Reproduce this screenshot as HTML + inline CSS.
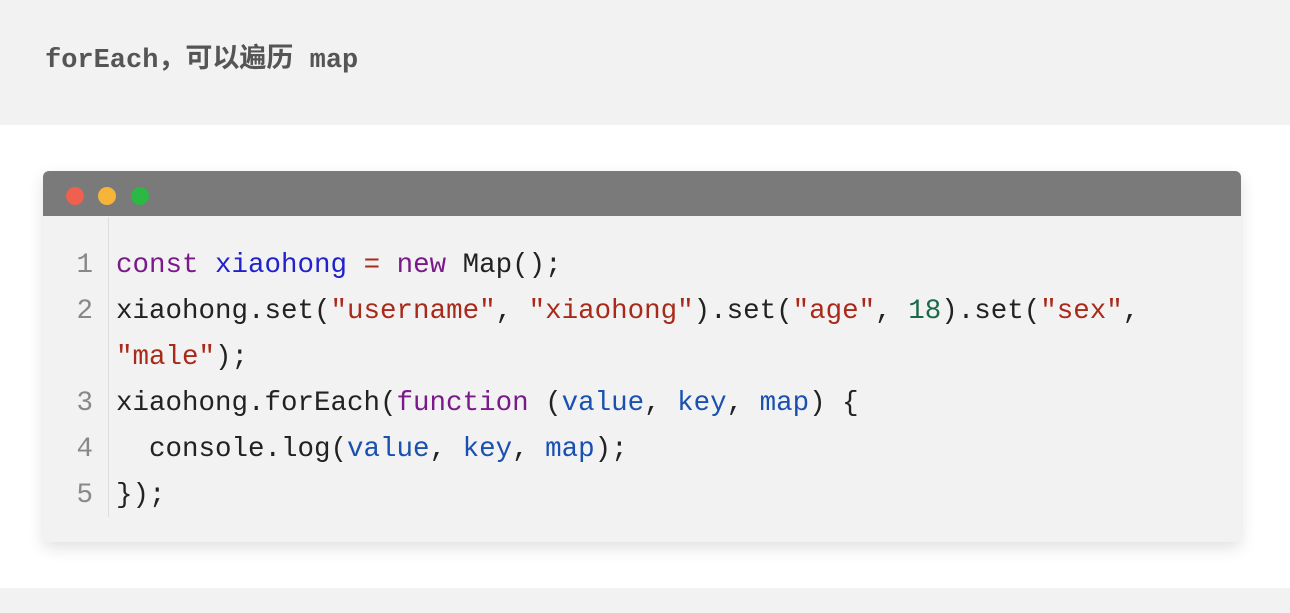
<!DOCTYPE html>
<html><head><meta charset="utf-8"><style>
body{margin:0;width:1290px;height:613px;background:#fff;position:relative;overflow:hidden;font-family:"Liberation Mono","Noto Sans CJK SC",monospace}
.top{position:absolute;left:0;top:0;width:1290px;height:125px;background:#f2f2f2}
.bot{position:absolute;left:0;top:588px;width:1290px;height:25px;background:#f2f2f2}
.h{position:absolute;left:45px;top:36px;font-size:27px;font-weight:bold;color:#555;white-space:pre}
.card{position:absolute;left:43px;top:171px;width:1198px;height:371px;background:#f2f2f2;border-radius:6px;box-shadow:0 6px 16px rgba(0,0,0,0.12);overflow:hidden}
.bar{height:45px;background:#7a7a7a;position:relative}
.dot{position:absolute;top:16px;width:18px;height:18px;border-radius:50%}
.sep{position:absolute;left:65px;top:46px;width:1px;height:300px;background:#ddd}
.ln{position:absolute;left:0;width:50px;text-align:right;color:#888;font-size:27.5px}
.code{position:absolute;left:73px;font-size:27.5px;color:#222;white-space:pre}
.k{color:#7a1a8a}.v{color:#2222cc}.s{color:#a82a1a}.n{color:#1a6a4a}.p{color:#1a50b0}
</style></head><body>
<div class="top"></div><div class="bot"></div>
<div class="h">forEach，可以遍历 map</div>
<div class="card">
<div class="bar"><div class="dot" style="left:23px;background:#f0604f"></div><div class="dot" style="left:55px;background:#f7b43a"></div><div class="dot" style="left:88px;background:#2bb844"></div></div>
<div class="sep"></div>
<div class="ln" style="top:79px">1</div>
<div class="ln" style="top:125px">2</div>
<div class="ln" style="top:217px">3</div>
<div class="ln" style="top:263px">4</div>
<div class="ln" style="top:309px">5</div>
<div class="code" style="top:79px"><span class="k">const</span> <span class="v">xiaohong</span> <span class="s">=</span> <span class="k">new</span> Map();</div>
<div class="code" style="top:125px">xiaohong.set(<span class="s">"username"</span>, <span class="s">"xiaohong"</span>).set(<span class="s">"age"</span>, <span class="n">18</span>).set(<span class="s">"sex"</span>,</div>
<div class="code" style="top:171px"><span class="s">"male"</span>);</div>
<div class="code" style="top:217px">xiaohong.forEach(<span class="k">function</span> (<span class="p">value</span>, <span class="p">key</span>, <span class="p">map</span>) {</div>
<div class="code" style="top:263px">  console.log(<span class="p">value</span>, <span class="p">key</span>, <span class="p">map</span>);</div>
<div class="code" style="top:309px">});</div>
</div>
</body></html>
